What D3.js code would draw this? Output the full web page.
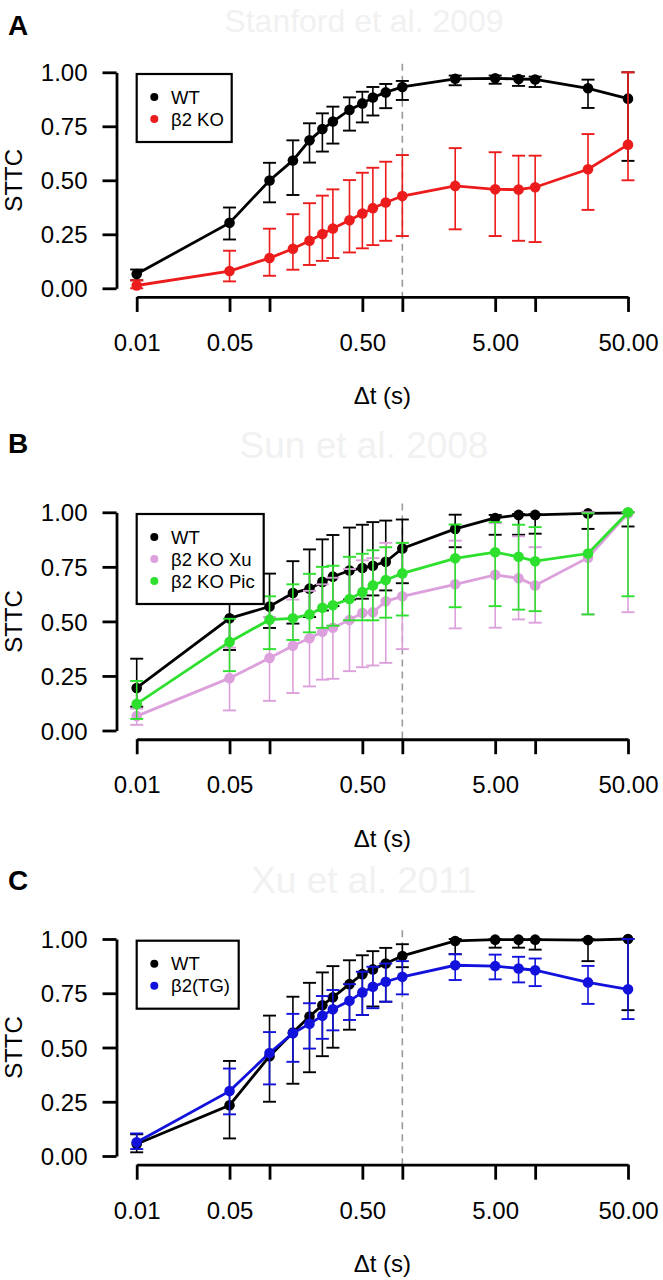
<!DOCTYPE html>
<html><head><meta charset="utf-8">
<script src="https://cdn.jsdelivr.net/npm/d3@7"></script>
<style>body{margin:0;background:#fff}svg{display:block}text{font-family:"Liberation Sans",Arial,sans-serif}</style>
</head><body>
<svg id="c" width="663" height="1280"></svg>
<script>
const xVals = [0.01,0.05,0.1,0.15,0.2,0.25,0.3,0.4,0.5,0.6,0.75,1,2.5,5,7.5,10,25,50];
const xTicks = [0.01,0.05,0.1,0.5,1,5,10,50];
const xTickLabels = ["0.01","0.05","","0.50","","5.00","","50.00"];
const yTicks = [0,0.25,0.5,0.75,1];
const yTickLabels = ["0.00","0.25","0.50","0.75","1.00"];

// Panel A (Stanford et al. 2009)
const aWT   = [0.066,0.303,0.499,0.592,0.685,0.737,0.772,0.826,0.856,0.883,0.907,0.932,0.970,0.972,0.969,0.967,0.926,0.878];
const aWTLo = [0.037,0.226,0.398,0.432,0.582,0.633,0.670,0.730,0.768,0.800,0.834,0.872,0.940,0.947,0.937,0.932,0.835,0.590];
const aWTHi = [0.087,0.374,0.581,0.685,0.764,0.810,0.841,0.884,0.910,0.932,0.946,0.960,0.985,0.985,0.982,0.980,0.966,1.000];
const aKO   = [0.013,0.080,0.140,0.183,0.220,0.251,0.277,0.315,0.346,0.371,0.397,0.427,0.474,0.458,0.457,0.468,0.551,0.665];
const aKOLo = [0.000,0.032,0.058,0.086,0.108,0.127,0.140,0.166,0.185,0.200,0.220,0.242,0.273,0.242,0.220,0.214,0.363,0.500];
const aKOHi = [0.037,0.174,0.276,0.343,0.394,0.429,0.458,0.501,0.535,0.558,0.586,0.617,0.649,0.630,0.614,0.614,0.714,1.000];

// Panel B (Sun et al. 2008)
const bWT    = [0.195,0.514,0.568,0.630,0.650,0.681,0.705,0.733,0.745,0.755,0.773,0.834,0.924,0.974,0.988,0.988,0.995,0.997];
const bWTLo  = [0.109,0.369,0.470,0.490,0.520,0.550,0.570,0.600,0.604,0.619,0.642,0.675,0.840,0.897,0.897,0.902,0.924,0.935];
const bWTHi  = [0.329,0.625,0.719,0.776,0.830,0.876,0.896,0.930,0.943,0.955,0.962,0.967,0.989,0.988,0.992,0.992,1.000,1.000];
const bXu    = [0.066,0.240,0.332,0.388,0.423,0.453,0.471,0.506,0.539,0.542,0.592,0.615,0.670,0.713,0.698,0.665,0.792,0.995];
const bXuLo  = [0.026,0.092,0.136,0.172,0.202,0.233,0.237,0.272,0.290,0.298,0.310,0.373,0.468,0.471,0.509,0.494,0.532,0.542];
const bXuHi  = [0.100,0.380,0.520,0.600,0.640,0.670,0.700,0.740,0.780,0.790,0.860,0.860,0.870,0.950,0.890,0.840,1.000,1.000];
const bPic   = [0.122,0.406,0.508,0.514,0.532,0.562,0.574,0.603,0.634,0.665,0.690,0.720,0.789,0.817,0.796,0.776,0.811,1.000];
const bPicLo = [0.053,0.272,0.373,0.415,0.450,0.470,0.480,0.505,0.505,0.505,0.517,0.527,0.565,0.570,0.554,0.547,0.532,0.615];
const bPicHi = [0.227,0.512,0.615,0.670,0.718,0.750,0.755,0.796,0.810,0.826,0.840,0.860,0.944,0.955,0.943,0.932,0.995,1.000];

// Panel C (Xu et al. 2011)
const cWT   = [0.055,0.234,0.460,0.569,0.643,0.695,0.731,0.792,0.838,0.860,0.887,0.922,0.991,0.997,0.997,0.997,0.995,1.000];
const cWTLo = [0.017,0.081,0.250,0.333,0.386,0.460,0.499,0.582,0.650,0.689,0.711,0.870,0.930,0.960,0.960,0.951,0.898,0.672];
const cWTHi = [0.100,0.438,0.647,0.734,0.798,0.846,0.875,0.902,0.925,0.944,0.959,0.976,1.000,1.000,1.000,1.000,1.000,1.000];
const cTG   = [0.063,0.299,0.475,0.566,0.609,0.646,0.676,0.715,0.754,0.780,0.803,0.826,0.879,0.875,0.864,0.856,0.800,0.768];
const cTGLo = [0.032,0.192,0.330,0.434,0.495,0.540,0.579,0.627,0.650,0.681,0.711,0.745,0.811,0.814,0.800,0.783,0.701,0.631];
const cTGHi = [0.104,0.403,0.571,0.655,0.704,0.737,0.765,0.792,0.849,0.872,0.887,0.898,0.930,0.928,0.918,0.910,0.876,1.000];

const panels = [
  {letter:"A", title:"Stanford et al. 2009", yOne:72.3, yZero:288.3, letterY:35, titleY:32, titleSize:32, legW:95,
   series:[{name:"WT",color:"#000000",v:aWT,lo:aWTLo,hi:aWTHi},
           {name:"β2 KO",color:"#ec1c1c",v:aKO,lo:aKOLo,hi:aKOHi}]},
  {letter:"B", title:"Sun et al. 2008", yOne:512.3, yZero:730.5, letterY:453, titleY:458, titleSize:37, legW:127,
   series:[{name:"WT",color:"#000000",v:bWT,lo:bWTLo,hi:bWTHi},
           {name:"β2 KO Xu",color:"#dca0dc",v:bXu,lo:bXuLo,hi:bXuHi},
           {name:"β2 KO Pic",color:"#2ee02e",v:bPic,lo:bPicLo,hi:bPicHi}]},
  {letter:"C", title:"Xu et al. 2011", yOne:939, yZero:1156, letterY:890, titleY:893, titleSize:37, legW:102,
   series:[{name:"WT",color:"#000000",v:cWT,lo:cWTLo,hi:cWTHi},
           {name:"β2(TG)",color:"#1212dc",v:cTG,lo:cTGLo,hi:cTGHi}]}
];

const svg = d3.select("#c");
svg.append("rect").attr("width",663).attr("height",1280).attr("fill","#fff");
const x = d3.scaleLog().domain([0.01,50]).range([136.7,628]);

panels.forEach(p => {
  const g = svg.append("g");
  const y = d3.scaleLinear().domain([0,1]).range([p.yZero,p.yOne]);
  const axisY = y(-0.04);

  g.append("text").attr("x",364).attr("y",p.titleY).attr("text-anchor","middle")
    .attr("font-size",p.titleSize).attr("fill","#f1f1f1").text(p.title);
  g.append("text").attr("x",8).attr("y",p.letterY).attr("font-size",28)
    .attr("font-weight","bold").attr("fill","#000").text(p.letter);

  g.append("line").attr("x1",x(1)).attr("x2",x(1)).attr("y1",y(1.04)).attr("y2",axisY)
    .attr("stroke","#9a9a9a").attr("stroke-width",1.6).attr("stroke-dasharray","7,5");

  const ya = g.append("g").attr("transform",`translate(116.5,0)`)
    .call(d3.axisLeft(y).tickValues(yTicks).tickFormat((d,i)=>yTickLabels[i]).tickSize(14).tickSizeOuter(0).tickPadding(15));
  ya.select(".domain").attr("stroke","#000").attr("stroke-width",2.8);
  ya.selectAll(".tick line").attr("stroke","#000").attr("stroke-width",2.8);
  ya.selectAll(".tick text").attr("font-size",24).attr("font-family","Liberation Sans, Arial, sans-serif").attr("fill","#000").attr("dy","0.36em");

  const xa = g.append("g").attr("transform",`translate(0,${axisY})`)
    .call(d3.axisBottom(x).tickValues(xTicks).tickFormat((d,i)=>xTickLabels[i]).tickSize(15).tickSizeOuter(0));
  xa.select(".domain").attr("stroke","#000").attr("stroke-width",2.8);
  xa.selectAll(".tick line").attr("stroke","#000").attr("stroke-width",2.8);
  xa.selectAll(".tick text").attr("font-size",24).attr("font-family","Liberation Sans, Arial, sans-serif").attr("fill","#000")
    .attr("y",54).attr("dy",0);

  g.append("text").attr("transform",`translate(22,${(p.yOne+p.yZero)/2}) rotate(-90)`)
    .attr("text-anchor","middle").attr("font-size",24).text("STTC");
  g.append("text").attr("x",(x(0.01)+x(50))/2).attr("y",p.yZero+116).attr("text-anchor","middle")
    .attr("font-size",24).text("Δt (s)");

  p.series.forEach(s => {
    const sg = g.append("g");
    const pts = xVals.map((xv,i)=>({x:xv,v:s.v[i],lo:s.lo[i],hi:s.hi[i]}));
    sg.selectAll("line.eb").data(pts).enter().append("line")
      .attr("x1",d=>x(d.x)).attr("x2",d=>x(d.x)).attr("y1",d=>y(d.lo)).attr("y2",d=>y(d.hi))
      .attr("stroke",s.color).attr("stroke-width",1.6);
    sg.selectAll("line.cl").data(pts).enter().append("line")
      .attr("x1",d=>x(d.x)-6.5).attr("x2",d=>x(d.x)+6.5).attr("y1",d=>y(d.lo)).attr("y2",d=>y(d.lo))
      .attr("stroke",s.color).attr("stroke-width",1.9);
    sg.selectAll("line.ch").data(pts).enter().append("line")
      .attr("x1",d=>x(d.x)-6.5).attr("x2",d=>x(d.x)+6.5).attr("y1",d=>y(d.hi)).attr("y2",d=>y(d.hi))
      .attr("stroke",s.color).attr("stroke-width",1.9);
    sg.append("path").datum(pts)
      .attr("d",d3.line().x(d=>x(d.x)).y(d=>y(d.v)))
      .attr("fill","none").attr("stroke",s.color).attr("stroke-width",2.8);
    sg.selectAll("circle").data(pts).enter().append("circle")
      .attr("cx",d=>x(d.x)).attr("cy",d=>y(d.v)).attr("r",5.3).attr("fill",s.color);
  });

  const lg = g.append("g");
  const n = p.series.length;
  const top = p.yOne + 1.7;
  const rowH = 22;
  lg.append("rect").attr("x",136.7).attr("y",top).attr("width",p.legW).attr("height",rowH*n+24)
    .attr("fill","#fff").attr("stroke","#000").attr("stroke-width",2.2);
  p.series.forEach((s,i)=>{
    const cy = top + 23 + i*rowH;
    lg.append("circle").attr("cx",154.3).attr("cy",cy).attr("r",4).attr("fill",s.color);
    lg.append("text").attr("x",171).attr("y",cy+6.5).attr("font-size",18.5).attr("fill","#000").text(s.name);
  });
});
</script>
</body></html>
